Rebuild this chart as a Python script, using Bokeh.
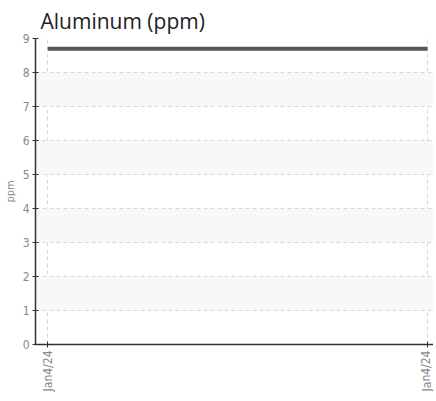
import pandas as pd
from bokeh.plotting import figure
from bokeh.models import FixedTicker, Range1d
from bokeh.embed import file_html
from bokeh.resources import INLINE

# data
dates = ["2024-01-04 09:00", "2024-01-04 17:00"]
aluminum = [8.7, 8.7]
title_text = "Aluminum (ppm)"
y_label = "ppm"
y_ticks = [0, 1, 2, 3, 4, 5, 6, 7, 8, 9]

ts = pd.to_datetime(dates)
xs = [t.value / 1e6 for t in ts]  # ms
labels = {x: t.strftime("%b") + str(t.day) + "/" + t.strftime("%y") for x, t in zip(xs, ts)}

span = xs[-1] - xs[0]
p = figure(frame_width=398, frame_height=306, output_backend="svg", toolbar_location=None,
           x_axis_type="datetime",
           x_range=Range1d(xs[0] - 0.0322 * span, xs[-1] + 0.0157 * span),
           y_range=Range1d(0, 9),
           min_border_left=30, min_border_right=0, min_border_top=33, min_border_bottom=44)

p.title.text = title_text
p.title.text_font = "Open Sans"
p.title.text_font_size = "21px"
p.title.text_font_style = "normal"
p.title.text_color = "#222222"
p.title.offset = 5
p.title.standoff = 8

p.line(xs, aluminum, line_color="#555555", line_width=4)

p.outline_line_color = None

tick_font = "DejaVu Sans Condensed, Liberation Sans Narrow, Roboto"
for ax in (p.xaxis[0], p.yaxis[0]):
    ax.axis_line_color = "#333333"
    ax.axis_line_width = 1.5
    ax.major_tick_line_color = "#333333"
    ax.major_tick_in = 3
    ax.major_tick_out = 3
    ax.minor_tick_line_color = None
    ax.major_label_text_font = tick_font
    ax.major_label_text_font_size = "12px"
    ax.major_label_text_color = "#888888"
    ax.major_label_standoff = 3

p.xaxis.ticker = FixedTicker(ticks=xs)
p.xaxis.major_label_overrides = labels
p.xaxis.major_label_orientation = 1.5708

p.yaxis.ticker = FixedTicker(ticks=y_ticks)
p.yaxis.axis_label = y_label
p.yaxis.axis_label_text_font = tick_font
p.yaxis.axis_label_text_font_size = "11px"
p.yaxis.axis_label_text_font_style = "normal"
p.yaxis.axis_label_text_color = "#888888"
p.yaxis.axis_label_standoff = 3

for g in (p.xgrid[0], p.ygrid[0]):
    g.grid_line_color = "#d8d8d8"
    g.grid_line_dash = "4 3"
    g.grid_line_width = 1
p.ygrid.band_fill_color = "#f8f8f8"
p.ygrid.band_fill_alpha = 1.0

open("out.html", "w").write(file_html(p, INLINE))
